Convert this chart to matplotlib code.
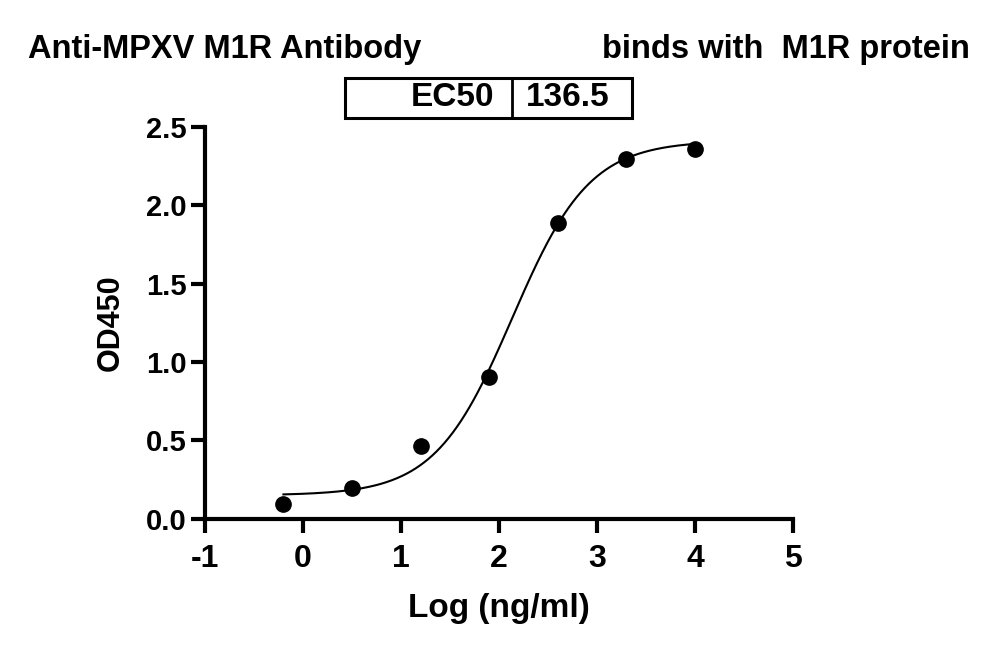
import numpy as np
import matplotlib
matplotlib.use('Agg')
import matplotlib.pyplot as plt
from matplotlib.patches import Rectangle

plt.rcParams['font.family'] = ['Liberation Sans', 'DejaVu Sans']
plt.rcParams['font.weight'] = 'bold'
plt.rcParams['axes.unicode_minus'] = False

# data
log_conc = [-0.2, 0.5, 1.2, 1.9, 2.6, 3.3, 4.0]
od450 = [0.096, 0.198, 0.466, 0.906, 1.888, 2.296, 2.36]

# 4PL fit parameters
bottom, top, ec50, hill = 0.15, 2.41, 136.5, 1.1

fig = plt.figure(figsize=(10, 6.56), dpi=100)
ax = fig.add_axes([0.205, 0.209, 0.588, 0.598])

xs = np.linspace(min(log_conc), max(log_conc), 300)
fit = bottom + (top - bottom) / (1 + 10 ** ((np.log10(ec50) - xs) * hill))
ax.plot(xs, fit, color='black', lw=1.5)
ax.plot(log_conc, od450, 'o', color='black', ms=11)

ax.set_xlim(-1, 5)
ax.set_ylim(0, 2.5)
ax.set_xticks(range(-1, 6))
ax.set_yticks([0, 0.5, 1.0, 1.5, 2.0, 2.5])
ax.set_yticklabels(['0.0', '0.5', '1.0', '1.5', '2.0', '2.5'])
for s in ['top', 'right']:
    ax.spines[s].set_visible(False)
for s in ['left', 'bottom']:
    ax.spines[s].set_linewidth(3)
ax.tick_params(width=3, length=10)
ax.tick_params(axis='x', labelsize=23, pad=8)
ax.tick_params(axis='y', labelsize=21)
for lab in ax.get_xticklabels() + ax.get_yticklabels():
    lab.set_fontweight('bold')
ax.set_xlabel('Log (ng/ml)', fontsize=24, fontweight='bold', labelpad=14)
ax.set_ylabel('OD450', fontsize=22, fontweight='bold', labelpad=14)

fig.text(0.028, 0.925, 'Anti-MPXV M1R Antibody', fontsize=23.5, fontweight='bold', va='center')
fig.text(0.970, 0.925, 'binds with  M1R protein', fontsize=23.5, fontweight='bold', va='center', ha='right')

# EC50 table box
fig.add_artist(Rectangle((0.345, 0.82), 0.287, 0.061, transform=fig.transFigure,
                         fill=False, lw=2.2, color='black'))
fig.add_artist(plt.Line2D([0.512, 0.512], [0.82, 0.881], transform=fig.transFigure, lw=2, color='black'))
fig.text(0.494, 0.851, 'EC50', fontsize=24, fontweight='bold', ha='right', va='center')
fig.text(0.568, 0.851, '136.5', fontsize=24, fontweight='bold', ha='center', va='center')

fig.savefig('out.png', dpi=100)
